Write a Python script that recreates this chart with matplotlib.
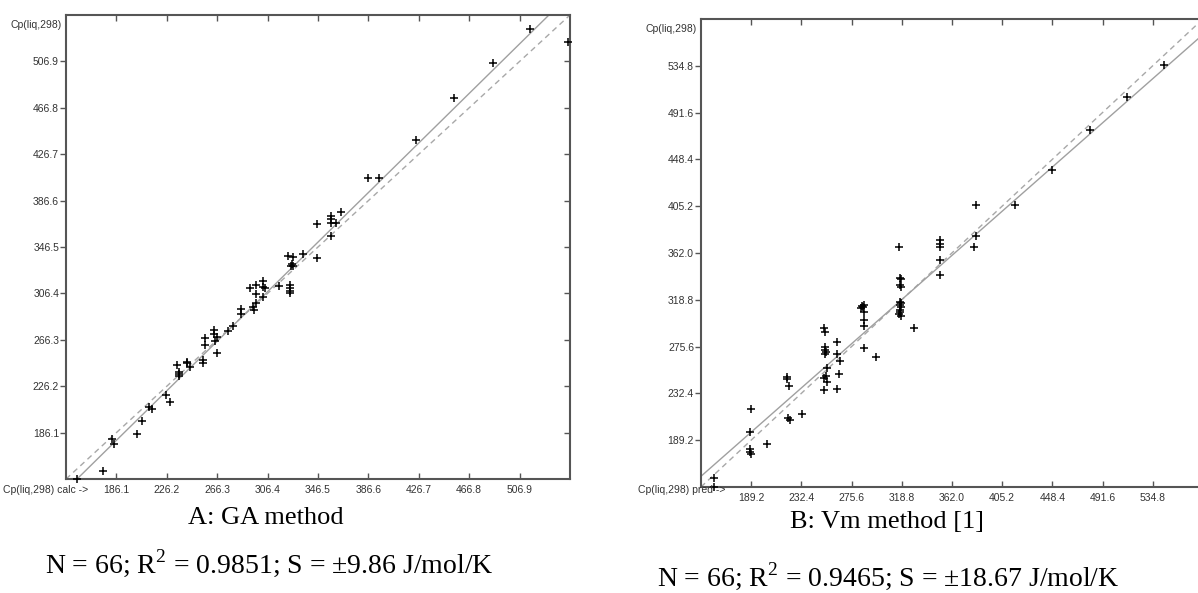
import matplotlib.pyplot as plt
import numpy as np

# --- Panel A: GA method (calc vs exp) ---
ga_calc = [154.5, 175.7, 182.3, 184.2, 202.5, 206.5, 212.0, 214.4, 225.6, 228.7,
           234.6, 235.9, 236.2, 235.6, 242.0, 242.6, 244.9, 255.2, 255.2, 256.8,
           256.8, 264.0, 264.0, 265.9, 264.6, 266.4, 274.6, 278.6, 285.5, 285.5,
           292.6, 296.9, 296.9, 302.5, 302.5, 304.3, 302.5, 294.5, 295.6, 297.2,
           315.7, 324.2, 324.2, 324.2, 324.2, 322.9, 326.8, 325.6, 326.8, 324.8,
           334.3, 346.0, 346.0, 356.8, 356.8, 356.8, 360.8, 356.8, 364.8, 386.5,
           395.3, 424.5, 454.7, 485.5, 515.2, 545.6]
ga_exp = [146.0, 153.2, 180.3, 176.0, 184.6, 195.9, 208.5, 206.8, 218.3, 212.3,
          244.8, 238.5, 236.5, 235.0, 246.8, 246.0, 242.5, 248.8, 246.0, 268.1,
          261.8, 274.8, 271.0, 269.0, 265.6, 254.9, 273.9, 278.2, 292.6, 288.3,
          310.8, 313.7, 305.9, 317.1, 311.6, 310.8, 303.0, 294.9, 292.0, 297.8,
          312.8, 313.7, 311.4, 308.8, 306.5, 338.7, 337.6, 331.5, 330.1, 330.5,
          340.4, 366.1, 336.7, 373.3, 370.4, 367.5, 366.9, 356.0, 376.5, 405.9,
          405.9, 438.9, 475.5, 505.8, 534.9, 523.4]
ga_fit = (-19.3, 1.068)  # intercept, slope of the solid line
ga_range = (146.0, 547.0)
ga_ticks = [186.1, 226.2, 266.3, 306.4, 346.5, 386.6, 426.7, 466.8, 506.9]

# --- Panel B: Vm method (pred vs exp) ---
vm_pred = [157.2, 157.2, 189.0, 188.1, 188.1, 189.0, 188.5, 202.5, 220.2, 220.2,
           221.9, 220.5, 222.5, 233.1, 252.0, 252.9, 252.9, 252.9, 252.9, 253.5,
           254.9, 253.5, 252.0, 254.9, 252.0, 263.5, 263.5, 265.5, 264.4, 263.5,
           284.7, 286.1, 284.1, 285.5, 286.7, 286.7, 285.9, 286.7, 297.0, 316.5,
           317.1, 318.5, 317.1, 318.5, 317.1, 317.1, 318.5, 318.0, 317.1, 317.1,
           318.0, 316.5, 329.1, 351.5, 351.5, 351.5, 351.5, 351.5, 380.7, 382.4,
           383.0, 416.0, 448.0, 480.4, 512.5, 544.3]
vm_exp = [154.6, 146.3, 218.1, 196.8, 181.0, 176.0, 178.5, 185.7, 247.9, 245.5,
          239.6, 209.8, 207.9, 213.5, 293.2, 289.5, 275.6, 272.6, 268.9, 270.8,
          256.2, 248.6, 246.5, 243.0, 235.6, 279.4, 268.9, 262.7, 250.4, 236.6,
          313.3, 314.2, 311.1, 312.0, 307.5, 300.4, 294.8, 274.7, 266.4, 367.1,
          338.9, 338.0, 332.0, 330.2, 317.2, 314.2, 312.1, 315.5, 309.6, 307.1,
          303.4, 305.5, 293.2, 373.6, 370.6, 367.5, 355.8, 341.3, 367.1, 377.3,
          406.0, 406.0, 438.3, 475.9, 505.8, 535.3]
vm_fit = (18.0, 0.944)
vm_range = (146.0, 578.0)
vm_ticks = [189.2, 232.4, 275.6, 318.8, 362.0, 405.2, 448.4, 491.6, 534.8]

panels = [
    dict(x=ga_calc, y=ga_exp, fit=ga_fit, lim=ga_range, ticks=ga_ticks,
         xlabel="Cp(liq,298) calc ->", xlab_x=3, right_ticks=True,
         rect=[0.0551, 0.1922, 0.4207, 0.7825],
         title="A: GA method", title_xy=(266, 518),
         stats=r"N = 66; R$^{2}$ = 0.9851; S = $\pm$9.86 J/mol/K", stats_xy=(269, 563)),
    dict(x=vm_pred, y=vm_exp, fit=vm_fit, lim=vm_range, ticks=vm_ticks,
         xlabel="Cp(liq,298) pred ->", xlab_x=638, right_ticks=False,
         rect=[0.5851, 0.1788, 0.4190, 0.7892],
         title="B: Vm method [1]", title_xy=(887, 522),
         stats=r"N = 66; R$^{2}$ = 0.9465; S = $\pm$18.67 J/mol/K", stats_xy=(888, 576)),
]

plt.rcParams["mathtext.fontset"] = "custom"
plt.rcParams["mathtext.rm"] = "Liberation Serif"

W, H = 1198, 593
fig = plt.figure(figsize=(W / 100, H / 100), dpi=100)
tick_font = dict(family="Liberation Sans", size=7.5, color="#333333")

for p in panels:
    ax = fig.add_axes(p["rect"])
    lo, hi = p["lim"]
    ax.set_xlim(lo, hi)
    ax.set_ylim(lo, hi)
    b0, b1 = p["fit"]
    ax.axline((0, 0), slope=1, color="#a8a8a8", lw=1.0, ls=(0, (4, 3)), zorder=1)
    ax.axline((0, b0), slope=b1, color="#a0a0a0", lw=1.0, zorder=1)
    ax.plot(p["x"], p["y"], ls="none", marker="+", ms=6, mew=1.1,
            color="black", zorder=3, clip_on=False)
    for s in ax.spines.values():
        s.set_color("#555555")
        s.set_linewidth(1.5)
    ax.set_xticks(p["ticks"])
    ax.set_yticks(p["ticks"])
    ax.set_xticklabels([f"{t:.1f}" for t in p["ticks"]], **tick_font)
    ax.set_yticklabels([f"{t:.1f}" for t in p["ticks"]], **tick_font)
    ax.tick_params(axis="y", direction="out", length=4, width=1, color="#555555",
                   right=p["right_ticks"], pad=1)
    ax.tick_params(axis="x", direction="in", length=4, width=1, color="#555555",
                   top=True, pad=4)
    # inward ticks on the right side
    for t in ax.yaxis.get_major_ticks():
        t.tick2line.set_marker(0)
    fig.text(p["xlab_x"] / W, 1 - 490 / H, p["xlabel"], ha="left", va="center",
             **tick_font)
    ax.text(-0.009, 0.978, "Cp(liq,298)", transform=ax.transAxes,
            ha="right", va="center", **tick_font)
    tx, ty = p["title_xy"]
    fig.text(tx / W, 1 - ty / H, p["title"], ha="center", va="center",
             family="Liberation Serif", size=19)
    sx, sy = p["stats_xy"]
    fig.text(sx / W, 1 - sy / H, p["stats"], ha="center", va="center",
             family="Liberation Serif", size=20)

fig.savefig("out.png", dpi=100)
